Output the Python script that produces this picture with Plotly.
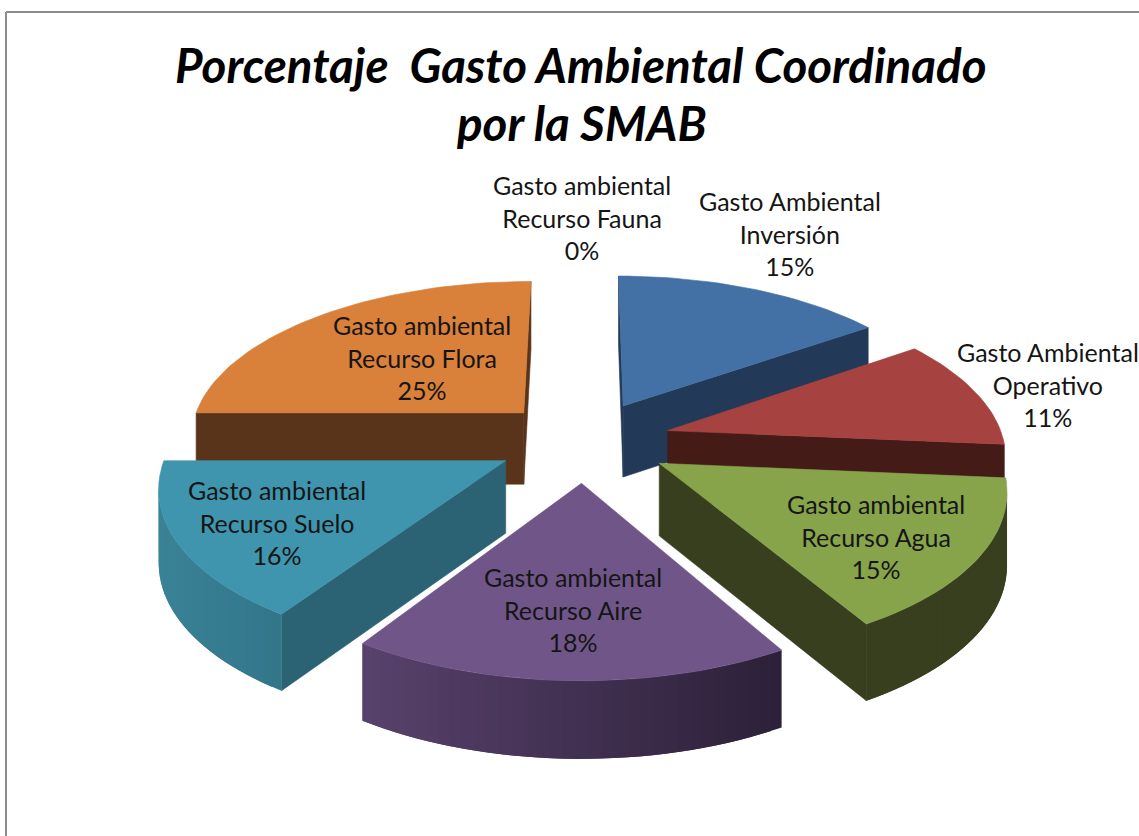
import math
import plotly.graph_objects as go

categories = ["Gasto Ambiental<br>Inversión", "Gasto Ambiental<br>Operativo", "Gasto ambiental<br>Recurso Agua",
              "Gasto ambiental<br>Recurso Aire", "Gasto ambiental<br>Recurso Suelo", "Gasto ambiental<br>Recurso Flora",
              "Gasto ambiental<br>Recurso Fauna"]
shares = [15.3, 11.1, 15.2, 17.7, 15.7, 25.0, 0.0]
top_colors = ["#4471a5", "#a64340", "#87a44b", "#705589", "#3f95ae", "#d9803a", "#d9803a"]
wall_colors = ["#223a57", "#451b18", "#373f1e", "#4a3659", "#2b6375", "#5a341a", "#5a341a"]
arc_left = [(34, 58, 88), (69, 28, 26), (55, 63, 30), (88, 66, 108), (58, 130, 150), (90, 52, 26), (90, 52, 26)]
arc_right = [(30, 50, 76), (60, 24, 22), (55, 63, 30), (44, 32, 56), (50, 118, 138), (90, 52, 26), (90, 52, 26)]
label_xy = [(790, 233), (1048, 384), (876, 536), (573, 609), (277, 522), (422, 357), (582, 217)]

title_lines = ["<b><i>Porcentaje  Gasto Ambiental Coordinado</i></b>", "<b><i>por la SMAB</i></b>"]
title_xy = [(581, 64), (581, 122)]

CX, CY, RX, RY, P, EXPL, H = 584, 441, 336, 157, 0.139, 0.26, 72


def proj(X, Y, z=0.0):
    s = 1 / (1 + P * Y)
    return CX + RX * X * s, CY - RY * Y * s + z * H * (1 + 0.4 * (s - 1))


def area(pts):
    return sum(pts[i][0] * pts[(i + 1) % len(pts)][1] - pts[(i + 1) % len(pts)][0] * pts[i][1]
               for i in range(len(pts)))


def poly(fig, pts, color, width=0.6):
    xs = [p[0] for p in pts] + [pts[0][0]]
    ys = [p[1] for p in pts] + [pts[0][1]]
    fig.add_trace(go.Scatter(x=xs, y=ys, mode="lines", fill="toself", fillcolor=color,
                             line=dict(color=color, width=width), hoverinfo="skip", showlegend=False))


slices = []
start = 0.0
for i, v in enumerate(shares):
    a0, a1 = start, start + v * 3.6
    start = a1
    if v == 0:
        continue
    mid = math.radians((a0 + a1) / 2)
    ox, oy = EXPL * math.sin(mid), EXPL * math.cos(mid)
    n = max(12, int(v * 2))
    rim = []
    for k in range(n + 1):
        t = math.radians(a0 + (a1 - a0) * k / n)
        rim.append((ox + math.sin(t), oy + math.cos(t)))
    slices.append((oy, i, (ox, oy), rim))

fig = go.Figure()
# painter's order: back slices first
for oy, i, apex, rim in sorted(slices, key=lambda s: -s[0]):
    ring = [apex] + rim
    xs_rim = [proj(*p)[0] for p in rim]
    xlo, xhi = min(xs_rim), max(xs_rim)
    for j in range(len(ring)):
        p, q = ring[j], ring[(j + 1) % len(ring)]
        quad = [proj(*p), proj(*q), proj(*q, 1), proj(*p, 1)]
        if area(quad) >= 0:
            continue
        is_rim = 0 < j < len(ring) - 1
        if is_rim:
            # overlap the next strip so no seam shows between the shaded strips
            if j + 2 < len(ring):
                q2 = ring[j + 2]
                quad = [proj(*p), proj(*q), proj(*q2), proj(*q2, 1), proj(*q, 1), proj(*p, 1)]
            xm = (proj(*p)[0] + proj(*q)[0]) / 2
            f = (xm - xlo) / max(1, xhi - xlo)
            L, R = arc_left[i], arc_right[i]
            c = tuple(round(L[m] + (R[m] - L[m]) * f) for m in range(3))
            poly(fig, quad, "rgb(%d,%d,%d)" % c, width=0)
        else:
            poly(fig, quad, wall_colors[i])
    poly(fig, [proj(*p) for p in ring], top_colors[i])

for cat, v, (x, y) in zip(categories, shares, label_xy):
    fig.add_annotation(x=x, y=y, text=f"{cat}<br>{round(v)}%", showarrow=False, xref="x", yref="y",
                       align="center", font=dict(family="Lato", size=25, color="#151515"))

for line, (x, y) in zip(title_lines, title_xy):
    fig.add_annotation(x=x, y=y, text=line, showarrow=False, xref="x", yref="y", align="center",
                       font=dict(family="Lato", size=47.5, color="black"))

for x0, y0, x1, y1 in [(6, 12, 1139, 12), (6, 12, 6, 836)]:
    fig.add_shape(type="line", x0=x0, y0=y0, x1=x1, y1=y1, line=dict(color="#8c8c8c", width=2), xref="x", yref="y")

fig.update_layout(width=1139, height=836, margin=dict(l=0, r=0, t=0, b=0), paper_bgcolor="white",
                  plot_bgcolor="white", showlegend=False,
                  xaxis=dict(range=[0, 1139], visible=False, fixedrange=True),
                  yaxis=dict(range=[836, 0], visible=False, fixedrange=True))
fig.write_html("out.html", config={"displayModeBar": False},
               post_script="document.body.style.margin='0';document.body.style.overflow='hidden';")
